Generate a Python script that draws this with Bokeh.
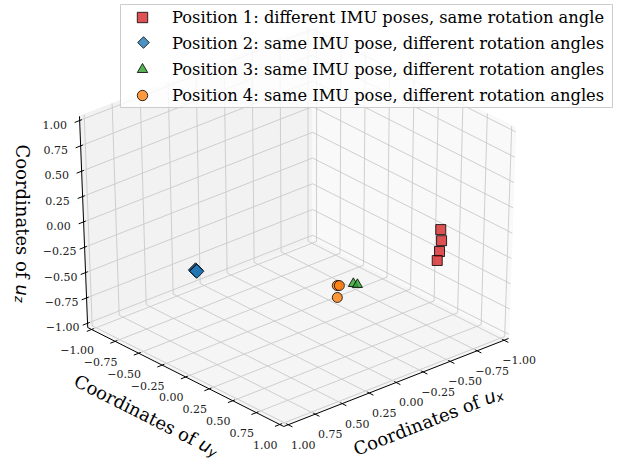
import numpy as np
from bokeh.plotting import figure
from bokeh.models import Range1d, Legend, LegendItem
from bokeh.core.properties import value
from bokeh.embed import file_html
from bokeh.resources import INLINE

# ---------------- data ----------------
tick_values = [-1.0, -0.75, -0.5, -0.25, 0.0, 0.25, 0.5, 0.75, 1.0]
tick_labels = ["\u22121.00", "\u22120.75", "\u22120.50", "\u22120.25", "0.00",
               "0.25", "0.50", "0.75", "1.00"]

series_names = [
    "Position 1: different IMU poses, same rotation angle",
    "Position 2: same IMU pose, different rotation angles",
    "Position 3: same IMU pose, different rotation angles",
    "Position 4: same IMU pose, different rotation angles",
]

pos1_ux = [-0.531, -0.522, -0.482, -0.454]
pos1_uy = [0.878, 0.899, 0.925, 0.935]
pos1_uz = [0.174, 0.078, 0.000, -0.072]

pos2_ux = [0.990, 0.991, 0.989]
pos2_uy = [0.068, 0.075, 0.080]
pos2_uz = [0.035, 0.031, 0.026]

pos3_ux = [0.315, 0.304]
pos3_uy = [0.940, 0.970]
pos3_uz = [0.029, 0.029]

pos4_ux = [0.445, 0.434, 0.456]
pos4_uy = [0.921, 0.930, 0.935]
pos4_uz = [0.056, 0.056, -0.051]

# ---------------- simple 3D camera (pixel space) ----------------
B = 1.0 + 2.0 / 48.0          # box half-size incl. matplotlib-like margin
CX, CY = 297.4, 227.0
EX = (-114.5, 44.8)
EY = (99.8, 50.4)
EZ = (-0.25, -105.5)
K = 0.018

W, H = 632, 458


def proj(x, y, z):
    x = np.asarray(x, float) / B
    y = np.asarray(y, float) / B
    z = np.asarray(z, float) / B
    s = 1.0 + K * z
    px = CX + s * (x * EX[0] + y * EY[0]) + z * EZ[0]
    py = CY + s * (x * EX[1] + y * EY[1]) + z * EZ[1]
    return px, py


p = figure(width=W, height=H, x_range=Range1d(0, W), y_range=Range1d(H, 0),
           output_backend="svg", toolbar_location=None, min_border=0,
           x_axis_type=None, y_axis_type=None)
p.grid.visible = False
p.outline_line_color = None
p.background_fill_color = "white"
p.border_fill_color = "white"

# ---------------- panes ----------------
panes = [
    ([B, -B, -B, B], [B, B, -B, -B], [-B, -B, -B, -B], "#f5f5f5"),   # floor
    ([B, -B, -B, B], [-B, -B, -B, -B], [-B, -B, B, B], "#f2f2f2"),   # y = -1 wall
    ([-B, -B, -B, -B], [-B, B, B, -B], [-B, -B, B, B], "#f9f9f9"),   # x = -1 wall
]
for xs, ys, zs, col in panes:
    px, py = proj(xs, ys, zs)
    p.patch(list(px), list(py), fill_color=col, line_color=col, line_width=1)

# ---------------- grid ----------------
gx, gy = [], []
for t in tick_values:
    segs = [
        ((t, -B, -B), (t, B, -B)), ((t, -B, -B), (t, -B, B)),
        ((-B, t, -B), (B, t, -B)), ((-B, t, -B), (-B, t, B)),
        ((-B, -B, t), (B, -B, t)), ((-B, -B, t), (-B, B, t)),
    ]
    for a, b in segs:
        px, py = proj([a[0], b[0]], [a[1], b[1]], [a[2], b[2]])
        gx.append(list(px))
        gy.append(list(py))
p.multi_line(gx, gy, line_color="#cacaca", line_width=0.9)

# ---------------- axis lines & ticks ----------------
ax_edges = [((B, -B, -B), (B, B, -B)), ((B, B, -B), (-B, B, -B)), ((B, -B, -B), (B, -B, B))]
axx, axy = [], []
for a, b in ax_edges:
    px, py = proj([a[0], b[0]], [a[1], b[1]], [a[2], b[2]])
    axx.append(list(px))
    axy.append(list(py))
tin, tout = 0.02, 0.045
for t in tick_values:
    for a, b in [((B - tin, t, -B), (B + tout, t, -B)),
                 ((t, B - tin, -B), (t, B + tout, -B)),
                 ((B - tin, -B, t), (B + tout, -B, t))]:
        px, py = proj([a[0], b[0]], [a[1], b[1]], [a[2], b[2]])
        axx.append(list(px))
        axy.append(list(py))
p.multi_line(axx, axy, line_color="black", line_width=1)

# ---------------- tick labels ----------------
tf = value("DejaVu Serif")
n = len(tick_values)
ypx, ypy = proj([B] * n, tick_values, [-B] * n)
p.text(list(ypx - 14.5), list(ypy + 20.5), text=tick_labels, text_font=tf, text_font_size="11px",
       text_align="center", text_baseline="middle", text_color="#222222")
xpx, xpy = proj(tick_values, [B] * n, [-B] * n)
p.text(list(xpx + 15), list(xpy + 20), text=tick_labels, text_font=tf, text_font_size="11px",
       text_align="center", text_baseline="middle", text_color="#222222")
zpx, zpy = proj([B] * n, [-B] * n, tick_values)
p.text(list(zpx - 25), list(zpy + 4), text=tick_labels, text_font=tf, text_font_size="11px",
       text_align="center", text_baseline="middle", text_color="#222222")


# ---------------- axis labels ----------------
def axis_label(jx, jy, theta, sub):
    r = np.array([np.cos(theta), -np.sin(theta)])
    up = np.array([-np.sin(theta), -np.cos(theta)])
    J = np.array([jx, jy])
    a = J - r * 6.0
    p.text([a[0]], [a[1]], text=["Coordinates of"], angle=theta, text_font=tf,
           text_font_size="18px", text_align="right", text_baseline="alphabetic",
           text_color="black")
    p.text([J[0]], [J[1]], text=["u"], angle=theta, text_font=value("DejaVu Sans"),
           text_font_style="italic", text_font_size="18px", text_align="left",
           text_baseline="alphabetic", text_color="black")
    s = J + r * 11.5 - up * 3.5
    p.text([s[0]], [s[1]], text=[sub], angle=theta, text_font=value("DejaVu Sans"),
           text_font_style="italic", text_font_size="12.5px", text_align="left",
           text_baseline="alphabetic", text_color="black")


th_y = -np.arctan2(EY[1], EY[0])
th_x = np.arctan2(EX[1], -EX[0])
axis_label(200.0, 442.0, th_y, "y")
axis_label(484.0, 398.5, th_x, "x")
axis_label(22.0, 284.0, -np.pi / 2, "z")

# ---------------- legend frame (drawn as a glyph so the diamond key can sit on it) ----------------
LEG_X, LEG_BOTTOM = 120, 108
PAD, GH, GW, SP = 1, 26, 44, 0
n_items = len(series_names)
leg_h = 2 * PAD + n_items * GH + (n_items - 1) * SP
leg_top = LEG_BOTTOM - leg_h
p.quad(left=[LEG_X], right=[612], top=[leg_top + 2], bottom=[LEG_BOTTOM - 1],
       fill_color="white", fill_alpha=0.8, line_color="#cccccc", line_width=1)

# ---------------- scatter ----------------
r1x, r1y = proj(pos1_ux, pos1_uy, pos1_uz)
r2x, r2y = proj(pos2_ux, pos2_uy, pos2_uz)
r3x, r3y = proj(pos3_ux, pos3_uy, pos3_uz)
r4x, r4y = proj(pos4_ux, pos4_uy, pos4_uz)

mk = dict(fill_alpha=0.8, line_color="black", line_alpha=0.8, line_width=1)
s1 = p.scatter(list(r1x), list(r1y), marker="square", size=10, fill_color="#d62728", **mk)
s2 = p.scatter(list(r2x), list(r2y), marker="square", angle=np.pi / 4, size=10,
               fill_color="#1f77b4", **mk)
s3 = p.scatter(list(r3x), list(r3y), marker="triangle", size=10, fill_color="#2ca02c", **mk)
s4 = p.scatter(list(r4x), list(r4y), marker="circle", size=10, fill_color="#ff7f0e", **mk)

# diamond key (rotated square like matplotlib's "D"); its legend entry uses an empty
# text renderer so that no other key is drawn for it
s2_key = p.text(x=[], y=[], text=[])
key_x = LEG_X + PAD + GW / 2
key_y = leg_top + PAD + 1 * (GH + SP) + GH / 2
p.scatter([key_x], [key_y], marker="square", angle=np.pi / 4, size=8.2,
          fill_color="#1f77b4", **mk)

legend = Legend(
    items=[LegendItem(label=series_names[0], renderers=[s1]),
           LegendItem(label=series_names[1], renderers=[s2_key]),
           LegendItem(label=series_names[2], renderers=[s3]),
           LegendItem(label=series_names[3], renderers=[s4])],
    location=(LEG_X, H - LEG_BOTTOM),
    padding=PAD, spacing=SP, glyph_height=GH, glyph_width=GW, label_height=GH,
    label_standoff=8, label_text_font="DejaVu Serif", label_text_font_size="16.3px",
    label_text_color="black", border_line_color=None,
    background_fill_alpha=0.0, margin=0,
)
p.add_layout(legend)

open("out.html", "w").write(file_html(p, INLINE))
